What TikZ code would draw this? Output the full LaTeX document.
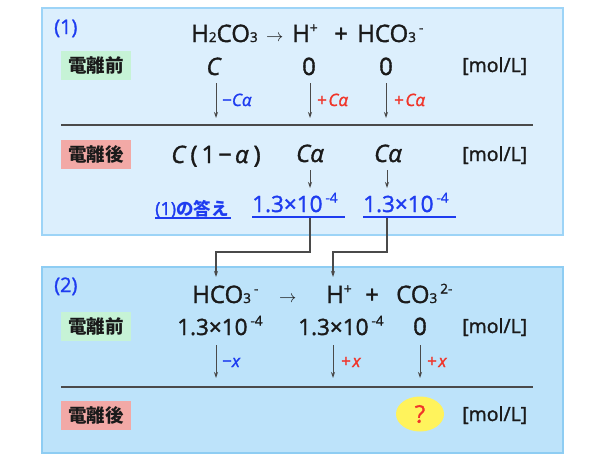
\documentclass[tikz,border=0pt]{standalone}
\usepackage{fontspec}
\setmainfont{Open Sans}[FakeBold=1.4]
\newfontfamily\jp{Noto Sans CJK JP}
\usetikzlibrary{arrows.meta,shapes.geometric}
\definecolor{boxAfill}{HTML}{DCEFFD}
\definecolor{boxAline}{HTML}{9DD4F7}
\definecolor{boxBfill}{HTML}{BDE3FA}
\definecolor{boxBline}{HTML}{8ECDF3}
\definecolor{labG}{HTML}{C6F3D6}
\definecolor{labR}{HTML}{F2A9A6}
\definecolor{qY}{HTML}{FFF35C}
\definecolor{txB}{HTML}{1E3CF0}
\definecolor{txR}{HTML}{F0352A}
\definecolor{txK}{HTML}{1A1A1A}
\definecolor{lnK}{HTML}{4A4A4A}
\newcommand\sbs[1]{{\fontsize{13.5}{13.5}\selectfont #1}}
\newcommand\sps[1]{\raisebox{9.5pt}{\fontsize{13.5}{13.5}\selectfont #1}}
\begin{document}
\begin{tikzpicture}[x=1pt,y=-1pt,
  boxA/.style={draw=boxAline,fill=boxAfill,line width=2pt},
  boxB/.style={draw=boxBline,fill=boxBfill,line width=2pt},
  big/.style={font=\fontsize{24}{24}\selectfont,inner sep=0pt,text=txK},
  rarr/.style={font=\fontsize{19}{19}\selectfont,inner sep=0pt,text=txK,anchor=base west},
  nbig/.style={font=\fontsize{22.5}{22.5}\selectfont,inner sep=0pt,text=txK},
  unit/.style={font=\fontsize{19.5}{19.5}\selectfont,inner sep=0pt,text=txK,anchor=base west},
  lab/.style={minimum width=70pt,minimum height=29pt,inner sep=0pt,font=\jp\bfseries\fontsize{18.5}{18.5}\selectfont,text=txK},
  chg/.style={font=\fontsize{17}{17}\selectfont,inner sep=0pt,anchor=base west},
  num/.style={font=\fontsize{20}{20}\selectfont,inner sep=0pt,text=txB,anchor=base west},
  darr/.style={draw=lnK,line width=0.9pt,-{Stealth[length=6pt,width=4pt]}},
  conn/.style={draw=lnK,line width=1.1pt,-{Stealth[length=6pt,width=4pt]}},
  divl/.style={draw=lnK,line width=1.4pt},
  uline/.style={draw=txB,line width=1.2pt}]
\useasboundingbox (0,0) rectangle (600,461);
% boxes
\path[boxA] (42,8) rectangle (563,235);
\path[boxB] (42,267) rectangle (563,453);
% ---------- part (1)
\node[num] (p1) at (54,34) {(1)};
\node[big,anchor=base west] (r1a) at (191,42) {H\sbs{2}CO\sbs{3}};
\node[rarr] (r1b) at (266,41) {$\rightarrow$};
\node[big,anchor=base west] (r1c) at (292,42) {H\sps{+}};
\node[big,anchor=base west] (r1d) at (334,42) {+};
\node[big,anchor=base west] (r1e) at (357,42) {HCO\sbs{3}\kern3pt\sps{-}};
\node[lab,fill=labG] (l1) at (96,65.5) {電離前};
\node[big,anchor=base] (v1) at (214,75) {\textit{C}};
\node[big,anchor=base] (v2) at (309,75) {0};
\node[big,anchor=base] (v3) at (386,75) {0};
\node[unit] (u1) at (462,72) {[mol/L]};
\coordinate (a1s) at (216,83); \coordinate (a1e) at (216,118);
\coordinate (a2s) at (310,83); \coordinate (a2e) at (310,118);
\coordinate (a3s) at (386,83); \coordinate (a3e) at (386,118);
\draw[darr] (a1s) -- (a1e);
\draw[darr] (a2s) -- (a2e);
\draw[darr] (a3s) -- (a3e);
\node[chg,text=txB] (c1) at (222,106) {−\textit{Cα}};
\node[chg,text=txR] (c2) at (317,106) {+\kern1.5pt\textit{Cα}};
\node[chg,text=txR] (c3) at (394,106) {+\kern1.5pt\textit{Cα}};
\draw[divl] (61,125) -- (533,125);
\node[lab,fill=labR] (l2) at (96,154) {電離後};
\node[big,anchor=base] (w1) at (216,163) {\textit{C}\kern4pt(\kern4pt1\kern3pt−\kern3pt\textit{α}\kern5pt)};
\node[big,anchor=base] (w2) at (310,162) {\textit{Cα}};
\node[big,anchor=base] (w3) at (388,162) {\textit{Cα}};
\node[unit] (u2) at (462,161) {[mol/L]};
\draw[darr] (310,170) -- (310,188);
\draw[darr] (387,170) -- (387,188);
\node[num,font=\fontsize{18}{18}\selectfont] (ansl) at (155,215) {(1){\jp\fontsize{17.5}{17.5}\selectfont\bfseries の答え}};
\draw[uline] (155,218) -- (231,218);
\node[num,font=\fontsize{22.5}{22.5}\selectfont] (ans1) at (252,212) {1.3×10\kern3pt\sps{-4}};
\node[num,font=\fontsize{22.5}{22.5}\selectfont] (ans2) at (363,212) {1.3×10\kern3pt\sps{-4}};
\draw[uline] (252,217) -- (345,217);
\draw[uline] (363,217) -- (456,217);
% ---------- part (2)
\node[num] (p2) at (54,292) {(2)};
\node[big,anchor=base west] (s1) at (192,303) {HCO\sbs{3}\kern3pt\sps{-}};
\node[rarr] (s2) at (279,302) {$\rightarrow$};
\node[big,anchor=base west] (s3) at (326,303) {H\sps{+}};
\node[big,anchor=base west] (s4) at (365,303) {+};
\node[big,anchor=base west] (s5) at (396,303) {CO\sbs{3}\kern3pt\sps{2-}};
\node[lab,fill=labG] (l3) at (96,326.5) {電離前};
\node[nbig,anchor=base west] (n1) at (177,335) {1.3×10\kern3pt\sps{-4}};
\node[nbig,anchor=base west] (n2) at (298,335) {1.3×10\kern3pt\sps{-4}};
\node[big,anchor=base] (n3) at (420,335) {0};
\node[unit] (u3) at (462,333) {[mol/L]};
\draw[darr] (216,345) -- (216,378);
\draw[darr] (333,345) -- (333,378);
\draw[darr] (420,345) -- (420,378);
\node[chg,text=txB] (d1) at (222,367) {−\textit{x}};
\node[chg,text=txR] (d2) at (341,367) {+\kern1.5pt\textit{x}};
\node[chg,text=txR] (d3) at (427,367) {+\kern1.5pt\textit{x}};
\draw[divl] (61,387) -- (533,387);
\node[lab,fill=labR] (l4) at (96,415.5) {電離後};
\node[ellipse,fill=qY,minimum width=48pt,minimum height=35pt,inner sep=0pt,font=\fontsize{24}{24}\selectfont,text=txR] (q) at (420,414) {?};
\node[unit] (u4) at (462,421) {[mol/L]};
% ---------- connectors
\coordinate (k1) at (216,252);
\coordinate (k2) at (333,252);
\draw[conn] (310,218) |- (k1) -- (216,277);
\draw[conn] (387,218) |- (k2) -- (333,277);
\end{tikzpicture}
\end{document}
